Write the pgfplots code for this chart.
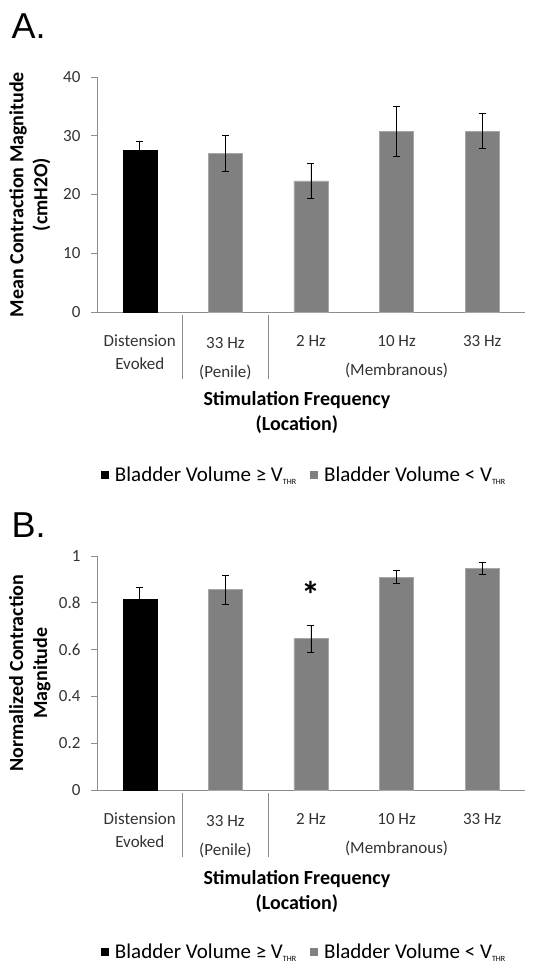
\documentclass[border=0pt]{standalone}
\usepackage{fontspec}
\setmainfont{Carlito}
\newfontfamily\panelfont{Liberation Sans}
\usepackage{pgfplots}
\pgfplotsset{compat=1.18}

\definecolor{axgray}{HTML}{8C8C8C}
\definecolor{bargray}{HTML}{808080}
\definecolor{barline}{HTML}{A6A6A6}
\definecolor{ticktext}{HTML}{333333}

\newcommand{\vthr}{V\raisebox{-3pt}{\fontsize{8}{8}\selectfont THR}}

\pgfplotsset{
  panel/.style={
    scale only axis,
    width=428pt,
    anchor=south west,
    xmin=-0.5, xmax=4.5,
    ymin=0,
    axis x line=bottom,
    axis y line=left,
    axis line style={draw=axgray, line width=0.8pt, -},
    xtick=\empty,
    tick style={draw=axgray, line width=0.8pt},
    tick align=outside,
    major tick length=6pt,
    ticklabel style={font=\fontsize{17}{17}\selectfont, text=ticktext},
    yticklabel style={xshift=-7pt},
    /pgf/number format/assume math mode=true,
    ylabel style={font=\bfseries\fontsize{20}{24}\selectfont, align=center, anchor=center},
    xlabel style={font=\bfseries\fontsize{20}{25}\selectfont, align=center, anchor=center},
    ybar, bar width=34pt, bar shift=0pt,
    clip=false,
    legend columns=2,
    legend style={draw=none, fill=none, anchor=center,
      font=\fontsize{21}{21}\selectfont,
      /tikz/every odd column/.append style={column sep=4pt},
      /tikz/every even column/.append style={column sep=12pt}},
    legend image code/.code={\fill[##1, draw=none] (0pt,-4pt) rectangle (8pt,4pt);},
    error bars/y dir=both,
    error bars/y explicit,
    error bars/error bar style={black, line width=0.8pt},
    error bars/error mark options={rotate=90, mark size=3.5pt, black, line width=0.8pt},
  },
  blackbar/.style={fill=black, draw=black},
  graybar/.style={fill=bargray, draw=barline, line width=0.6pt},
}

\newcommand{\catlabels}{%
  \node[font=\fontsize{17}{17}\selectfont, text=ticktext] at (axis cs:0,0) [yshift=-29pt] {Distension};
  \node[font=\fontsize{17}{17}\selectfont, text=ticktext] at (axis cs:0,0) [yshift=-52pt] {Evoked};
  \node[font=\fontsize{17}{17}\selectfont, text=ticktext] at (axis cs:1,0) [yshift=-31pt] {33 Hz};
  \node[font=\fontsize{17}{17}\selectfont, text=ticktext] at (axis cs:1,0) [yshift=-60pt] {(Penile)};
  \node[font=\fontsize{17}{17}\selectfont, text=ticktext] at (axis cs:2,0) [yshift=-29pt] {2 Hz};
  \node[font=\fontsize{17}{17}\selectfont, text=ticktext] at (axis cs:3,0) [yshift=-29pt] {10 Hz};
  \node[font=\fontsize{17}{17}\selectfont, text=ticktext] at (axis cs:4,0) [yshift=-29pt] {33 Hz};
  \node[font=\fontsize{17}{17}\selectfont, text=ticktext] at (axis cs:3,0) [yshift=-58pt] {(Membranous)};
  \draw[axgray, line width=0.8pt] ([yshift=-3pt]axis cs:0.5,0) -- ([yshift=-67pt]axis cs:0.5,0);
  \draw[axgray, line width=0.8pt] ([yshift=-3pt]axis cs:1.5,0) -- ([yshift=-67pt]axis cs:1.5,0);
}

\begin{document}
\begin{tikzpicture}
\node[font=\panelfont\fontsize{36}{36}\selectfont, anchor=base west] at (8pt,-38pt) {A.};
\node[font=\panelfont\fontsize{36}{36}\selectfont, anchor=base west] at (8pt,-537pt) {B.};

% panel A: absolute magnitude
\begin{axis}[panel,
  at={(97pt,-312pt)},
  height=235pt,
  ymax=40, ytick={0,10,20,30,40},
  ylabel={Mean Contraction Magnitude\\(cmH2O)},
  ylabel style={at={(axis description cs:-0.157,0.5)}},
  xlabel={Stimulation Frequency\\(Location)},
  xlabel style={at={(axis description cs:0.467,-0.426)}},
  legend style={at={(axis description cs:0.484,-0.694)}},
]
\addplot[blackbar] coordinates {(0,27.5) +- (0,1.5)};
\addplot[graybar] coordinates {
  (1,27.0) +- (0,3.0)
  (2,22.3) +- (0,2.95)
  (3,30.8) +- (0,4.25)
  (4,30.8) +- (0,3.0)
};
\legend{Bladder Volume ≥ \vthr, Bladder Volume < \vthr}
\catlabels
\end{axis}

% panel B: normalized magnitude
\begin{axis}[panel,
  at={(97pt,-790pt)},
  height=234pt,
  ymax=1, ytick={0,0.2,0.4,0.6,0.8,1},
  yticklabel style={/pgf/number format/fixed, /pgf/number format/precision=1},
  ylabel={Normalized Contraction\\Magnitude},
  ylabel style={at={(axis description cs:-0.157,0.5)}},
  xlabel={Stimulation Frequency\\(Location)},
  xlabel style={at={(axis description cs:0.467,-0.432)}},
  legend style={at={(axis description cs:0.484,-0.692)}},
]
\addplot[blackbar] coordinates {(0,0.815) +- (0,0.05)};
\addplot[graybar] coordinates {
  (1,0.856) +- (0,0.061)
  (2,0.647) +- (0,0.057)
  (3,0.910) +- (0,0.027)
  (4,0.947) +- (0,0.027)
};
\legend{Bladder Volume ≥ \vthr, Bladder Volume < \vthr}
\node[font=\bfseries\fontsize{38}{38}\selectfont, anchor=center] at (axis cs:2,0.835) {*};
\catlabels
\end{axis}

\pgfresetboundingbox
\path[use as bounding box] (0,0) rectangle (556pt,-970pt);
\end{tikzpicture}
\end{document}
